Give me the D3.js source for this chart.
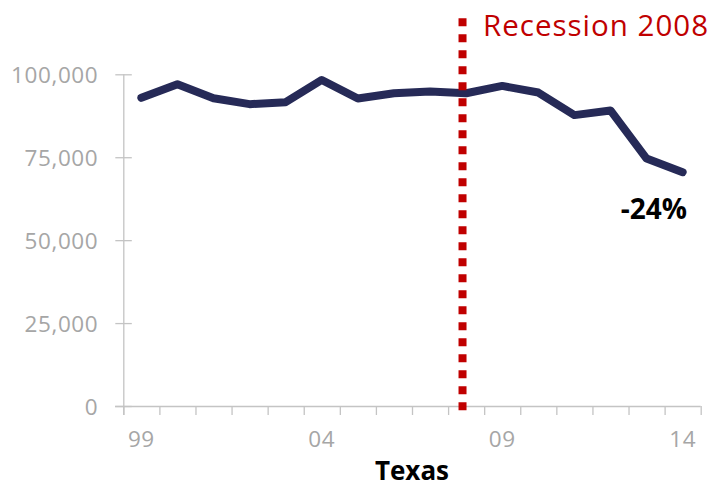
<!DOCTYPE html>
<html>
<head>
<meta charset="utf-8">
<script src="https://cdn.jsdelivr.net/npm/d3@7/dist/d3.min.js"></script>
<style>
  html, body { margin: 0; padding: 0; background: #ffffff; }
  svg { display: block; }
</style>
</head>
<body>
<svg id="chart" width="717" height="483"></svg>
<script>
// ---- data ----
const years = [1999, 2000, 2001, 2002, 2003, 2004, 2005, 2006, 2007, 2008, 2009, 2010, 2011, 2012, 2013, 2014];
const values = [92900, 97000, 92800, 91000, 91600, 98300, 92700, 94300, 94800, 94300, 96500, 94500, 87700, 89100, 74600, 70500];
const yTicks = [0, 25000, 50000, 75000, 100000];
const xLabelYears = [1999, 2004, 2009, 2014];
const xLabels = ["99", "04", "09", "14"];
const recessionYear = 2007.9;
const recessionLabel = "Recession 2008";
const changeLabel = "-24%";
const axisTitle = "Texas";

// ---- layout ----
const svg = d3.select("#chart");
const mLeft = 123.3, mRight = 700.7, mTop = 74.3, mBottom = 406;

const x = d3.scaleLinear().domain([years[0] - 0.5, years[years.length - 1] + 0.5]).range([mLeft, mRight]);
const y = d3.scaleLinear().domain([0, 100000]).range([mBottom, mTop]);

const axisColor = "#c4c4c4";
const labelColor = "#a6a6a6";
const font = "'Open Sans', sans-serif";

// y axis
const yAxis = d3.axisLeft(y).tickValues(yTicks).tickSizeOuter(0).tickSizeInner(8).tickFormat(d3.format(","));
const gy = svg.append("g").attr("transform", `translate(${mLeft},0)`).call(yAxis);
gy.select(".domain").attr("stroke", axisColor).attr("stroke-width", 1.3)
  .attr("d", `M0.5,${mTop}V${mBottom + 9}`);
gy.selectAll(".tick line").attr("stroke", axisColor).attr("stroke-width", 1.3).attr("x1", 8.5).attr("x2", -8);
gy.selectAll(".tick text")
  .attr("x", -25).attr("dy", "0.36em")
  .attr("fill", labelColor)
  .style("font-family", font).style("font-size", "22.5px").style("letter-spacing", "0.6px");

// x axis (tick marks at category boundaries)
const boundaries = d3.range(years.length + 1).map(i => years[0] - 0.5 + i);
const xAxis = d3.axisBottom(x).tickValues(boundaries).tickSizeOuter(0).tickSizeInner(9).tickFormat("");
const gx = svg.append("g").attr("transform", `translate(0,${mBottom})`).call(xAxis);
gx.select(".domain").attr("stroke", axisColor).attr("stroke-width", 1.3).attr("d", `M115,0.5H${mRight}`);
gx.selectAll(".tick line").attr("stroke", axisColor).attr("stroke-width", 1.3);

// x labels
svg.append("g").selectAll("text").data(xLabelYears).join("text")
  .attr("x", d => x(d))
  .attr("y", 447)
  .attr("text-anchor", "middle")
  .attr("fill", labelColor)
  .style("font-family", font).style("font-size", "22.5px").style("letter-spacing", "0.6px")
  .text((d, i) => xLabels[i]);

// axis title
svg.append("text")
  .attr("x", (mLeft + mRight) / 2)
  .attr("y", 480)
  .attr("text-anchor", "middle")
  .attr("fill", "#000")
  .style("font-family", font).style("font-weight", "bold").style("font-size", "26px")
  .text(axisTitle);

// line
const line = d3.line().x((d, i) => x(years[i])).y(d => y(d));
svg.append("path")
  .datum(values)
  .attr("fill", "none")
  .attr("stroke", "#262a57")
  .attr("stroke-width", 8)
  .attr("stroke-linejoin", "round")
  .attr("stroke-linecap", "round")
  .attr("d", line);

// recession line
svg.append("line")
  .attr("x1", x(recessionYear)).attr("x2", x(recessionYear))
  .attr("y1", 18.3).attr("y2", 411)
  .attr("stroke", "#c00000")
  .attr("stroke-width", 8)
  .attr("stroke-dasharray", "8,8");

svg.append("text")
  .attr("x", 483)
  .attr("y", 36)
  .attr("fill", "#c00000")
  .style("font-family", font).style("font-size", "29.5px").style("letter-spacing", "1px")
  .text(recessionLabel);

// change annotation
svg.append("text")
  .attr("x", 687)
  .attr("y", 219)
  .attr("text-anchor", "end")
  .attr("fill", "#000")
  .style("font-family", font).style("font-weight", "bold").style("font-size", "28px")
  .text(changeLabel);
</script>
</body>
</html>
